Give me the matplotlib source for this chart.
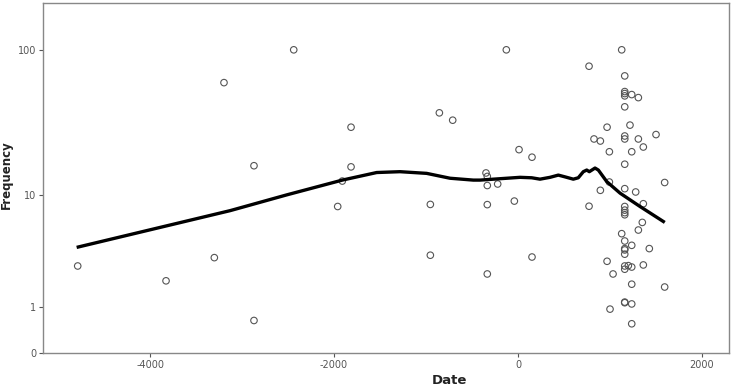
import numpy as np
import matplotlib
matplotlib.use("Agg")
import matplotlib.pyplot as plt

# scatter points (Date, Frequency)
date = [-4786, -3826, -3301, -3196, -2870, -2870, -2438, -1815, -1815, -1910,
        -1960, -855, -710, -953, -953, -348, -334, -334, -334, -334,
        -221, -127, 11, 152, -40, 152, 772, 772, 1127, 1160,
        1160, 1160, 1160, 1236, 1308, 1160, 968, 1217, 826, 895,
        1160, 1160, 1308, 1500, 1362, 993, 1236, 1160, 993, 1594,
        895, 1160, 1279, 1362, 1160, 1160, 1160, 1160, 1351, 1308,
        1127, 1160, 1236, 1160, 1160, 1160, 1427, 968, 1160, 1199,
        1236, 1160, 1362, 1033, 1236, 1594, 1160, 1160, 1236, 1000,
        1236]
freq = [2.76, 2.0, 3.27, 60.3, 16.3, 0.64, 100, 30.1, 16.0, 12.7,
        8.3, 37.7, 33.6, 8.6, 3.43, 14.5, 13.7, 11.8, 8.57, 2.33,
        12.1, 100, 21.1, 18.7, 9.1, 3.31, 77.7, 8.34, 100, 66.9,
        52.5, 50.9, 49.1, 50.1, 47.8, 41.4, 30.1, 31.1, 25.0, 24.2,
        26.2, 25.0, 25.0, 26.8, 22.0, 20.4, 20.4, 16.7, 12.5, 12.4,
        10.9, 11.2, 10.6, 8.7, 8.3, 7.8, 7.47, 7.2, 6.3, 5.5,
        5.15, 4.5, 4.15, 3.9, 3.8, 3.5, 3.9, 3.04, 2.76, 2.78,
        2.7, 2.58, 2.82, 2.33, 1.85, 1.73, 1.17, 1.15, 1.11, 0.95,
        0.56]

# smoothed fit line
fit_date = [-4780, -3130, -2913, -2514, -1910, -1536, -1283, -993, -739, -486,
            -413, 22, 149, 239, 348, 438, 511, 601, 655, 710,
            747, 775, 837, 873, 964, 1109, 1326, 1580]
fit_freq = [4.02, 7.73, 8.5, 10.1, 12.9, 14.6, 14.8, 14.4, 13.3, 12.9,
            12.9, 13.5, 13.4, 13.1, 13.5, 14.0, 13.6, 13.1, 13.4, 14.8,
            15.2, 14.8, 15.7, 15.2, 12.6, 10.4, 8.3, 6.4]

x_ticks = [-4000, -2000, 0, 2000]
y_ticks = [0, 1, 10, 100]

fig = plt.figure(figsize=(7.33, 3.9), dpi=100)
ax = fig.add_axes([0.0587, 0.0949, 0.9358, 0.8974])

# SPSS-style axis: log10(y + 1) so that 0 can sit on the axis
ax.set_yscale('function', functions=(lambda y: np.log10(np.clip(y, -0.999, None) + 1),
                                     lambda v: 10 ** v - 1))

ax.scatter(date, freq, s=22, facecolors='none', edgecolors='#555555', linewidths=0.8, zorder=2)
ax.plot(fit_date, fit_freq, color='black', lw=2.4, zorder=3, solid_joinstyle='round')

ax.set_xlim(-5163, 2293)
ax.set_ylim(0, 205)
ax.set_xticks(x_ticks)
ax.set_xticklabels([str(t) for t in x_ticks])
ax.set_yticks(y_ticks)
ax.set_yticklabels([str(t) for t in y_ticks])
ax.yaxis.set_minor_locator(matplotlib.ticker.NullLocator())

ax.tick_params(axis='both', labelsize=7, colors='#555555', length=3, width=0.8, pad=2)
for s in ax.spines.values():
    s.set_color('#888888')
    s.set_linewidth(1.0)

ax.set_xlabel('Date', fontsize=9.5, fontweight='bold', color='#222222')
ax.set_ylabel('Frequency', fontsize=8.5, fontweight='bold', color='#222222')
ax.xaxis.set_label_coords(0.593, -0.06)
ax.yaxis.set_label_coords(-0.044, 0.51)

fig.savefig('out.png', dpi=100)
